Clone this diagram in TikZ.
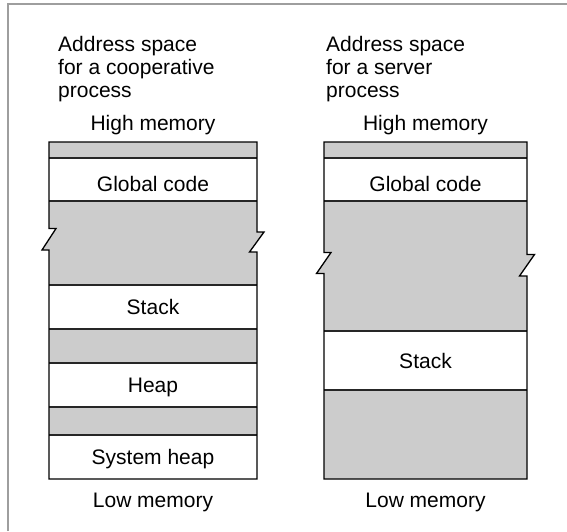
\documentclass[tikz,border=0pt]{standalone}
\usepackage{fontspec}
\setmainfont{Liberation Sans}
\definecolor{fond}{gray}{0.8}
\definecolor{cadre}{gray}{0.62}
\begin{document}
\begin{tikzpicture}[x=1pt,y=-1pt,
    txt/.style={font=\fontsize{21}{23}\selectfont,inner sep=0pt},
    trait/.style={line width=1.3pt,line join=miter},
    sep/.style={line width=1.3pt,draw=black!85}]
  \useasboundingbox (0,0) rectangle (567,531);
  \draw[cadre,line width=2pt] (8,531) -- (8,4) -- (567,4);
  % contours avec les coupures
  \def\gauche{(49,142) -- (257,142) -- (257,232) -- (264,232) -- (249.5,252) -- (257,252) -- (257,479) -- (49,479) -- (49,250) -- (42,250) -- (56,228.5) -- (49,228.5) -- cycle}
  \def\droite{(324,142) -- (527,142) -- (527,254.5) -- (534.5,254.5) -- (519.5,276) -- (527,276) -- (527,479) -- (324,479) -- (324,273.5) -- (316.5,273.5) -- (331,252.5) -- (324,252.5) -- cycle}
  \begin{scope}
    \clip \gauche;
    \fill[fond] (30,142) rectangle (280,158) (30,201) rectangle (280,285) (30,329) rectangle (280,363) (30,407) rectangle (280,435);
  \end{scope}
  \begin{scope}
    \clip \droite;
    \fill[fond] (300,142) rectangle (550,158) (300,201) rectangle (550,331) (300,390) rectangle (550,479);
  \end{scope}
  \foreach \y in {158,201,285,329,363,407,435} \draw[sep] (49,\y) -- (257,\y);
  \foreach \y in {158,201,331,390} \draw[sep] (324,\y) -- (527,\y);
  \draw[trait] \gauche;
  \draw[trait] \droite;
  % textes
  \node[txt,anchor=north west,align=left] (titreA) at (58,36) {Address space\\for a cooperative\\process};
  \node[txt,anchor=north west,align=left] (titreB) at (326,36) {Address space\\for a server\\process};
  \node[txt,anchor=base] (hautA) at (153,130.7) {High memory};
  \node[txt,anchor=base] (hautB) at (425.5,130.7) {High memory};
  \node[txt,anchor=base] (codeA) at (153,191) {Global code};
  \node[txt,anchor=base] (codeB) at (425.5,191) {Global code};
  \node[txt,anchor=base] (pileA) at (153,314.3) {Stack};
  \node[txt,anchor=base] (pileB) at (425.5,368) {Stack};
  \node[txt,anchor=base] (tasA) at (153,392.5) {Heap};
  \node[txt,anchor=base] (sysA) at (153,464.5) {System heap};
  \node[txt,anchor=base] (basA) at (153,507) {Low memory};
  \node[txt,anchor=base] (basB) at (425.5,507) {Low memory};
\end{tikzpicture}
\end{document}
